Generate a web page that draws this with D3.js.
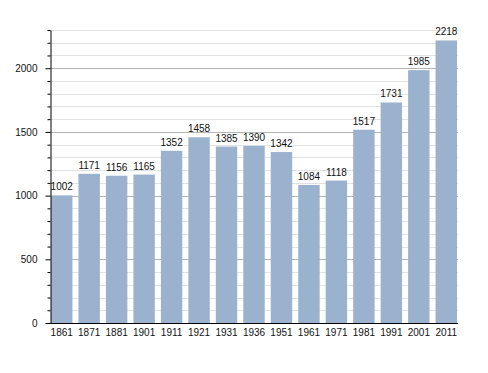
<!DOCTYPE html>
<html>
<head>
<meta charset="utf-8">
<script src="https://cdn.jsdelivr.net/npm/d3@7"></script>
<style>
  body { margin: 0; background: #fff; }
  text { font-family: "Liberation Sans", Arial, sans-serif; fill: #111; }
</style>
</head>
<body>
<div id="chart"></div>
<script>
// population by census year
var years = ["1861","1871","1881","1901","1911","1921","1931","1936","1951","1961","1971","1981","1991","2001","2011"]
var population = [1002,1171,1156,1165,1352,1458,1385,1390,1342,1084,1118,1517,1731,1985,2218]
var yMajorTicks = [0,500,1000,1500,2000]

var width = 488, height = 373
var m_left = 50, m_right = 458, m_top = 30, m_bottom = 323

var svg = d3.select("#chart").append("svg")
    .attr("width", width)
    .attr("height", height)

var x_scale = d3.scaleBand()
    .domain(years)
    .range([m_left + 1, m_right - 1])
    .paddingInner(0.22)
    .paddingOuter(0)

var y_scale = d3.scaleLinear()
    .domain([0, 2300])
    .range([m_bottom, m_top])

// grid lines every 100, darker every 500
var minor = d3.range(100, 2301, 100).filter(d => d % 500 != 0)
svg.append("g").selectAll("line")
    .data(minor)
    .enter().append("line")
    .attr("x1", m_left).attr("x2", m_right)
    .attr("y1", d => Math.round(y_scale(d)) + 0.5).attr("y2", d => Math.round(y_scale(d)) + 0.5)
    .attr("stroke", "#e2e2e2")

svg.append("g").selectAll("line")
    .data(yMajorTicks.filter(d => d > 0))
    .enter().append("line")
    .attr("x1", m_left).attr("x2", m_right)
    .attr("y1", d => Math.round(y_scale(d)) + 0.5).attr("y2", d => Math.round(y_scale(d)) + 0.5)
    .attr("stroke", "#b4b4b4")

// bars
svg.append("g").selectAll("rect")
    .data(population)
    .enter().append("rect")
    .attr("x", (d, i) => x_scale(years[i]))
    .attr("y", d => y_scale(d))
    .attr("width", x_scale.bandwidth())
    .attr("height", d => m_bottom - y_scale(d))
    .attr("fill", "#9ab2cd")

// value labels
svg.append("g").selectAll("text")
    .data(population)
    .enter().append("text")
    .attr("x", (d, i) => x_scale(years[i]) + x_scale.bandwidth() / 2)
    .attr("y", d => y_scale(d) - 5)
    .attr("text-anchor", "middle")
    .style("font-size", "10px")
    .text(d => d)

// y axis with minor ticks
var yaxis = svg.append("g")
    .attr("transform", "translate(" + (m_left + 0.5) + ",0)")
yaxis.call(d3.axisLeft(y_scale).tickValues(minor).tickSize(3).tickFormat(""))
yaxis.select(".domain").remove()
var ymaj = svg.append("g")
    .attr("transform", "translate(" + (m_left + 0.5) + ",0)")
    .call(d3.axisLeft(y_scale).tickValues(yMajorTicks).tickFormat(d3.format("d")).tickSize(5).tickPadding(8).tickSizeOuter(0))
ymaj.selectAll("text").style("font-size", "10px").attr("fill", "#111")
svg.selectAll(".tick line").attr("stroke", "#000")
ymaj.select(".domain").attr("stroke", "#000")

// x axis
var xaxis = svg.append("g")
    .attr("transform", "translate(0," + (m_bottom + 0.5) + ")")
    .call(d3.axisBottom(x_scale).tickSize(0).tickPadding(5))
xaxis.select(".domain").attr("d", "M" + m_left + ",0H" + m_right).attr("stroke", "#000")
xaxis.selectAll("text").style("font-size", "10px").attr("fill", "#111")
</script>
</body>
</html>
